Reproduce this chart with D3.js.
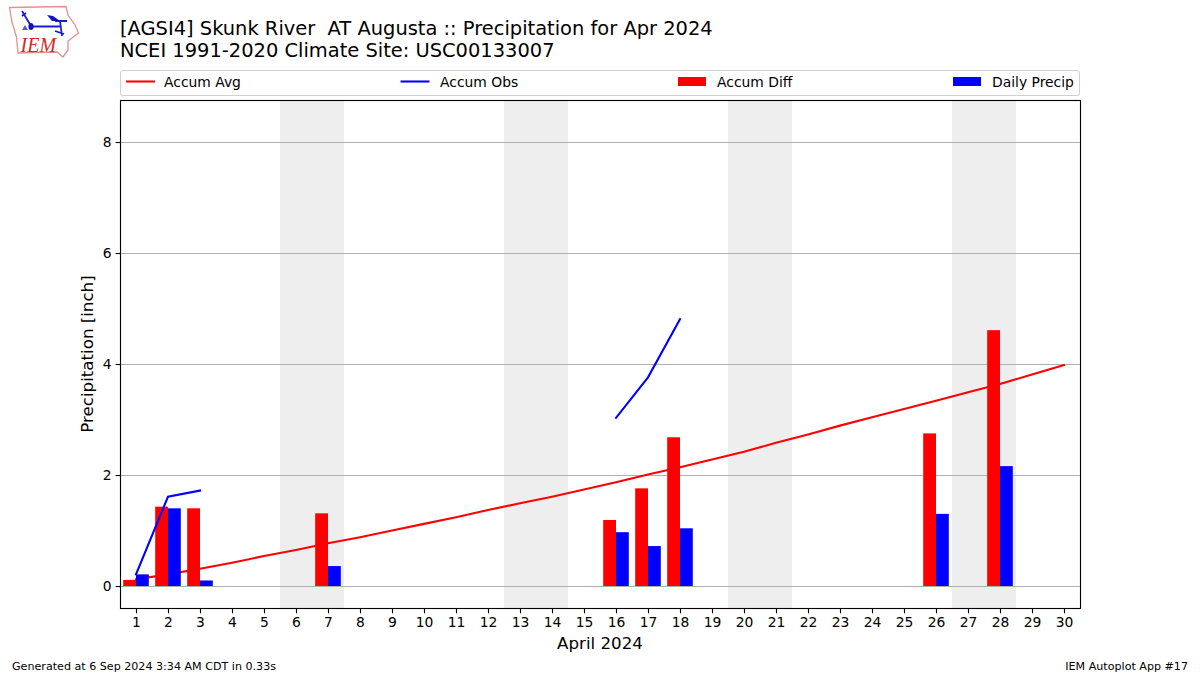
<!DOCTYPE html>
<html><head><meta charset="utf-8">
<script src="https://cdn.jsdelivr.net/npm/d3@7"></script>
<style>html,body{margin:0;padding:0;background:#fff}svg{display:block}text{font-family:"DejaVu Sans",sans-serif;fill:#000}</style>
</head><body><svg id="c" width="1200" height="675"></svg>
<script>
const titleLines = ["[AGSI4] Skunk River  AT Augusta :: Precipitation for Apr 2024", "NCEI 1991-2020 Climate Site: USC00133007"];
const days = d3.range(1, 31);
const yTicks = [0, 2, 4, 6, 8];
const weekends = [[5.5, 7.5], [12.5, 14.5], [19.5, 21.5], [26.5, 28.5]];
const accumAvg = [0.12,0.21,0.31,0.42,0.54,0.65,0.77,0.88,1.00,1.12,1.24,1.37,1.49,1.61,1.74,1.87,2.01,2.14,2.28,2.42,2.58,2.73,2.89,3.04,3.19,3.34,3.49,3.64,3.81,3.98];
const accumObsA = [[1,0.21],[2,1.61],[3,1.72]];
const accumObsB = [[16,3.03],[17,3.76],[18,4.81]];
const diffDays = [1,2,3,7,16,17,18,26,28];
const accumDiff = [0.11,1.43,1.40,1.31,1.19,1.76,2.68,2.75,4.61];
const dailyPrecip = [0.21,1.40,0.10,0.36,0.97,0.72,1.04,1.30,2.16];

const svg = d3.select("#c");
const L=120.5,R=1080.5,T=100.5,B=608.5;
const x = d3.scaleLinear().domain([0.5,30.5]).range([120,1080]);
const y = d3.scaleLinear().domain([-0.396,8.757]).range([608,100]);
const barW = x(1.4)-x(1);

// weekends
svg.selectAll(".wk").data(weekends).join("rect")
  .attr("x",d=>x(d[0])).attr("width",d=>x(d[1])-x(d[0])).attr("y",T).attr("height",B-T).attr("fill","#eeeeee");
// grid
svg.selectAll(".g").data(yTicks).join("line")
  .attr("x1",L).attr("x2",R).attr("y1",d=>Math.round(y(d))+.5).attr("y2",d=>Math.round(y(d))+.5)
  .attr("stroke","#b0b0b0").attr("stroke-width",1.11);
const line = d3.line().x(d=>x(d[0])).y(d=>y(d[1]));
svg.append("path").attr("d",line(days.map((d,i)=>[d,accumAvg[i]]))).attr("fill","none").attr("stroke","#f00").attr("stroke-width",2.08).attr("stroke-linecap","square");
// bars
svg.selectAll(".rb").data(diffDays).join("rect")
  .attr("x",d=>x(d)-barW).attr("width",barW)
  .attr("y",(d,i)=>y(accumDiff[i])).attr("height",(d,i)=>y(0)-y(accumDiff[i])).attr("fill","#f00");
svg.selectAll(".bb").data(diffDays).join("rect")
  .attr("x",d=>x(d)).attr("width",barW)
  .attr("y",(d,i)=>y(dailyPrecip[i])).attr("height",(d,i)=>y(0)-y(dailyPrecip[i])).attr("fill","#00f");
[accumObsA,accumObsB].forEach(s=>svg.append("path").attr("d",line(s)).attr("fill","none").attr("stroke","#00f").attr("stroke-width",2.08).attr("stroke-linecap","square"));
// frame
svg.append("rect").attr("x",L).attr("y",T).attr("width",R-L).attr("height",B-T).attr("fill","none").attr("stroke","#000").attr("stroke-width",1.11);
// axes
const xAxis = d3.axisBottom(x).tickValues(days).tickFormat(d3.format("d")).tickSize(4.86).tickPadding(4);
const yAxis = d3.axisLeft(y).tickValues(yTicks).tickFormat(d3.format("d")).tickSize(4.86).tickPadding(4);
const gx = svg.append("g").attr("transform","translate(0,608.5)").call(xAxis);
const gy = svg.append("g").attr("transform","translate(120.5,0)").call(yAxis);
[gx,gy].forEach(g=>{g.select(".domain").remove();g.selectAll("text").attr("font-size",13.89).style("font-family",'"DejaVu Sans"');g.selectAll("line").attr("stroke","#000").attr("stroke-width",1.11)});
// titles
titleLines.forEach((t,i)=>svg.append("text").attr("x",120).attr("y",35+i*22).attr("font-size",19.45).style("white-space","pre").attr("xml:space","preserve").text(t));
svg.append("text").attr("x",600).attr("y",649).attr("text-anchor","middle").attr("font-size",16.67).text("April 2024");
svg.append("text").attr("transform","translate(92.5,354) rotate(-90)").attr("text-anchor","middle").attr("font-size",16.67).text("Precipitation [inch]");
svg.append("text").attr("x",12).attr("y",670).attr("font-size",11.11).text("Generated at 6 Sep 2024 3:34 AM CDT in 0.33s");
svg.append("text").attr("x",1188).attr("y",670).attr("text-anchor","end").attr("font-size",11.11).text("IEM Autoplot App #17");
// legend
svg.append("rect").attr("x",120.5).attr("y",70.5).attr("width",959).attr("height",25).attr("rx",2.5).attr("fill","#fff").attr("stroke","#d0d0d0");
const legY=81.5;
[[126,"Accum Avg","#f00",0,38],[400.5,"Accum Obs","#00f",0,39.5],[678,"Accum Diff","#f00",1,39],[953,"Daily Precip","#00f",1,39]].forEach(([lx,t,c,isBar,off])=>{
  if(isBar) svg.append("rect").attr("x",lx).attr("y",77).attr("width",28).attr("height",9).attr("fill",c);
  else svg.append("line").attr("x1",lx).attr("x2",lx+29).attr("y1",legY).attr("y2",legY).attr("stroke",c).attr("stroke-width",2.08);
  svg.append("text").attr("x",lx+off).attr("y",86.5).attr("font-size",13.89).text(t);
});
// logo
const logo = svg.append("g");
logo.append("path").attr("d","M9.5,7.5 L66,6.5 L68,15 L75,25 L78.5,33 L68,41 L68,50 L63,57 L57,52 L18,53 L16.5,37 L12,22 Z").attr("fill","#fff").attr("stroke","#e58f8f").attr("stroke-width",1.3);
logo.append("path").attr("d","M32,26.5 L60,26.5 M55,21 L67,21 M60,21 L62,36 M22,11 L31,26 M22,16 L26,13 M55,31 L64,34").attr("fill","none").attr("stroke","#1c1ccf").attr("stroke-width",1.8);
logo.append("ellipse").attr("cx",31).attr("cy",26.5).attr("rx",2.6).attr("ry",3.6).attr("fill","#1010c8");
logo.append("path").attr("d","M47,15 L53,16 L60,21 L52,21 Z").attr("fill","#1010c8");
logo.append("path").attr("d","M22,30 L28,30 L25,25 Z").attr("fill","#5a5ad8");
logo.append("text").attr("x",20.5).attr("y",52).attr("font-size",20).attr("font-style","italic").style("font-family",'"Liberation Serif"').style("fill","#d42a2a").text("IEM");
</script></body></html>
